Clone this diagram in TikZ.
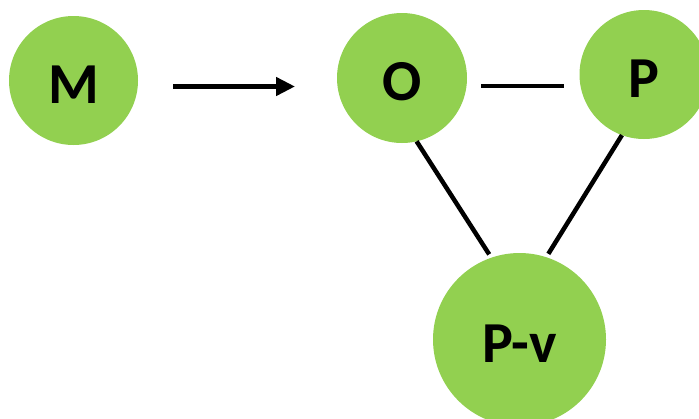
\documentclass[tikz,border=0pt]{standalone}
\usepackage{fontspec}
\setmainfont{Carlito}
\usetikzlibrary{arrows.meta}
\definecolor{leaf}{RGB}{146,208,80}
\begin{document}
\begin{tikzpicture}[x=1pt,y=-1pt,
  state/.style={circle,fill=leaf,inner sep=0pt,outer sep=0pt,minimum size=129pt,
    font=\fontsize{58}{60}\bfseries\selectfont,text height=45pt,text depth=0pt},
  link/.style={line width=4.5pt}]
\useasboundingbox (0,0) rectangle (699,418);
\node[state] (m) at (73.5,80.5) {M};
\node[state,minimum size=130pt] (o) at (402,78) {O};
\node[state] (p) at (644,74.5) {P};
\node[state,minimum size=173pt] (pv) at (519.5,339.5) {P-v};
\draw[link,-{Triangle[length=19pt,width=18pt]},shorten <=35pt,shorten >=42pt]
  ([yshift=-6pt]m.east) -- ([yshift=-6pt]m.east -| o.west);
\draw[link,shorten <=14pt,shorten >=16pt] ([yshift=-8pt]o.east) -- ([yshift=-8pt]o.east -| p.west);
\draw[link,shorten >=4pt] (o.-77) -- (pv.109);
\draw[link,shorten >=4pt] (p.-110) -- (pv.72);
\end{tikzpicture}
\end{document}
